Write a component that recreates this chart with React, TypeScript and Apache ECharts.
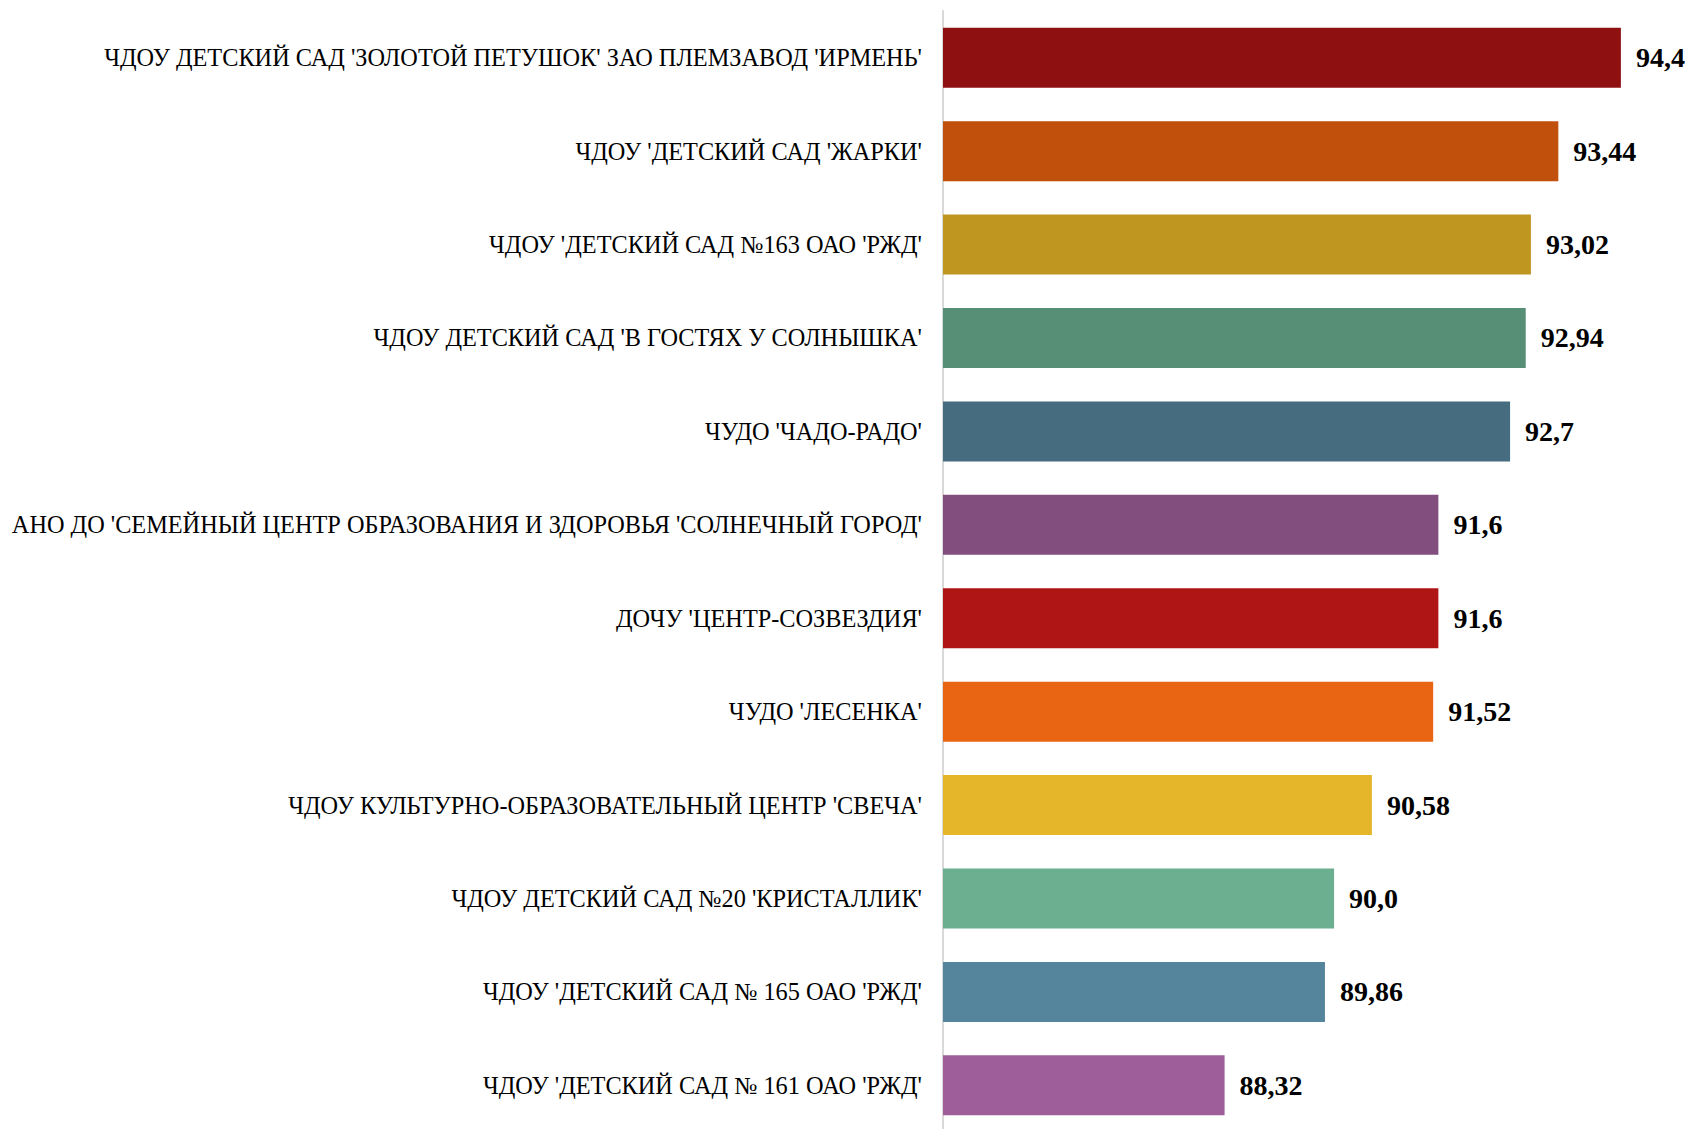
import React, { useEffect, useRef } from "react";
import * as echarts from "echarts";

const categories = [
  "ЧДОУ ДЕТСКИЙ САД 'ЗОЛОТОЙ ПЕТУШОК' ЗАО ПЛЕМЗАВОД 'ИРМЕНЬ'",
  "ЧДОУ 'ДЕТСКИЙ САД 'ЖАРКИ'",
  "ЧДОУ 'ДЕТСКИЙ САД №163 ОАО 'РЖД'",
  "ЧДОУ ДЕТСКИЙ САД 'В ГОСТЯХ У СОЛНЫШКА'",
  "ЧУДО 'ЧАДО-РАДО'",
  "АНО ДО 'СЕМЕЙНЫЙ ЦЕНТР ОБРАЗОВАНИЯ И ЗДОРОВЬЯ 'СОЛНЕЧНЫЙ ГОРОД'",
  "ДОЧУ 'ЦЕНТР-СОЗВЕЗДИЯ'",
  "ЧУДО 'ЛЕСЕНКА'",
  "ЧДОУ КУЛЬТУРНО-ОБРАЗОВАТЕЛЬНЫЙ ЦЕНТР 'СВЕЧА'",
  "ЧДОУ ДЕТСКИЙ САД №20 'КРИСТАЛЛИК'",
  "ЧДОУ 'ДЕТСКИЙ САД № 165 ОАО 'РЖД'",
  "ЧДОУ 'ДЕТСКИЙ САД № 161 ОАО 'РЖД'",
];

const values = [94.4, 93.44, 93.02, 92.94, 92.7, 91.6, 91.6, 91.52, 90.58, 90.0, 89.86, 88.32];

const valueLabels = ["94,4", "93,44", "93,02", "92,94", "92,7", "91,6", "91,6", "91,52", "90,58", "90,0", "89,86", "88,32"];

const barColors = [
  "#8E1010",
  "#C0500C",
  "#BE9620",
  "#578F76",
  "#466C80",
  "#824E7E",
  "#B01515",
  "#E96413",
  "#E5B629",
  "#6BAE90",
  "#55859C",
  "#9E5E9A",
];

const axisMin = 84;
const axisMax = 95;

export default function App() {
  const ref = useRef<HTMLDivElement>(null);

  useEffect(() => {
    if (!ref.current) return;
    const chart = echarts.init(ref.current, undefined, { renderer: "svg" });
    chart.setOption({
      animation: false,
      backgroundColor: "#ffffff",
      grid: {
        left: 943,
        right: 31,
        top: 11,
        bottom: -3,
        containLabel: false,
        outerBoundsMode: "none",
      },
      xAxis: {
        type: "value",
        min: axisMin,
        max: axisMax,
        show: false,
        splitLine: { show: false },
      },
      yAxis: {
        type: "category",
        inverse: true,
        data: categories,
        axisLine: { show: true, lineStyle: { color: "#d9d9d9", width: 2 } },
        axisTick: { show: false },
        axisLabel: {
          color: "#000000",
          fontFamily: "'Liberation Serif', 'Times New Roman', serif",
          fontSize: 24.3,
          margin: 21,
        },
      },
      series: [
        {
          type: "bar",
          barWidth: 60,
          data: values.map((v, i) => ({
            value: v,
            itemStyle: { color: barColors[i] },
          })),
          label: {
            show: true,
            position: "right",
            distance: 15,
            color: "#000000",
            fontFamily: "'Liberation Serif', 'Times New Roman', serif",
            fontWeight: "bold",
            fontSize: 28,
            formatter: (p: any) => valueLabels[p.dataIndex],
          },
        },
      ],
    });
    return () => chart.dispose();
  }, []);

  return (
    <div
      ref={ref}
      style={{ position: "absolute", left: 0, top: 0, width: 1691, height: 1129 }}
    />
  );
}
